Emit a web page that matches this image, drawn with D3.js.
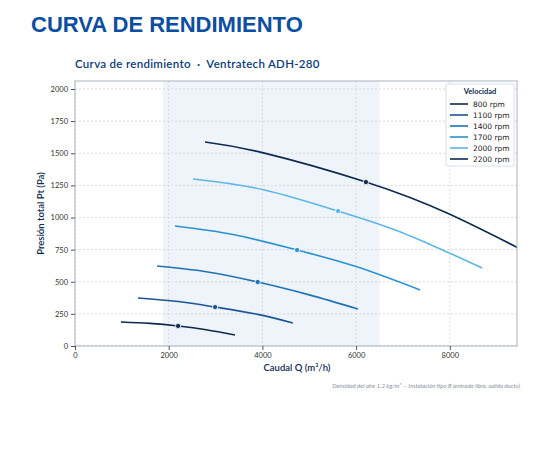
<!DOCTYPE html>
<html><head><meta charset="utf-8">
<script src="https://cdn.jsdelivr.net/npm/d3@7"></script>
<style>body{margin:0;background:#fff;font-family:Lato,"Noto Sans",sans-serif;}</style>
</head><body>
<script>
const rpmLabels = ["800 rpm", "1100 rpm", "1400 rpm", "1700 rpm", "2000 rpm", "2200 rpm"];
const colors = ["#0e2a4e", "#1d5696", "#1f72b8", "#2b92d2", "#5cb6e6", "#0e2a4e"];
const curveQ = [
  [980, 1600, 2200, 2800, 3415],
  [1345, 2200, 2990, 3900, 4650],
  [1750, 2800, 3900, 5000, 6040],
  [2135, 3400, 4740, 6000, 7365],
  [2520, 4000, 5615, 7000, 8690],
  [2775, 4000, 6210, 8000, 9800]
];
const curveP = [
  [187, 176, 156, 127, 86],
  [374, 346, 303, 246, 179],
  [622, 578, 498, 398, 288],
  [934, 866, 747, 618, 436],
  [1300, 1218, 1050, 880, 607],
  [1588, 1505, 1276, 1025, 700]
];
const markerIdx = 2;
const xTicks = [0, 2000, 4000, 6000, 8000];
const yTicks = [0, 250, 500, 750, 1000, 1250, 1500, 1750, 2000];
const band = [1880, 6500];

const W = 540, H = 460;
const m = {l: 75, r: 23, t: 81, b: 114};
const svg = d3.select("body").append("svg").attr("width", W).attr("height", H);

svg.append("text").attr("x", 31).attr("y", 32).text("CURVA DE RENDIMIENTO")
  .attr("fill", "#0b4ea2").attr("font-size", 22).attr("font-weight", 700)
  .attr("font-family", "Liberation Sans, Arial, sans-serif");
svg.append("text").attr("x", 75).attr("y", 68).text("Curva de rendimiento  ·  Ventratech ADH-280")
  .attr("fill", "#0b3c7a").attr("font-size", 11.5).attr("font-weight", 600)
  .attr("letter-spacing", 0.3).attr("xml:space", "preserve").style("white-space", "pre");

const x = d3.scaleLinear().domain([0, 9434]).range([m.l, W - m.r]);
const y = d3.scaleLinear().domain([0, 2000]).range([H - m.b, m.t + 8]);
const pw = W - m.r - m.l;

svg.append("defs").append("clipPath").attr("id", "c").append("rect")
  .attr("x", m.l).attr("y", m.t).attr("width", pw).attr("height", H - m.b - m.t);

svg.append("rect").attr("x", x(band[0])).attr("y", m.t)
  .attr("width", x(band[1]) - x(band[0])).attr("height", H - m.b - m.t).attr("fill", "#eef4fa");

const g = svg.append("g");
g.selectAll(".gx").data(xTicks).join("line").attr("x1", d => x(d)).attr("x2", d => x(d))
  .attr("y1", m.t).attr("y2", H - m.b).attr("stroke", "#d5dbe3").attr("stroke-dasharray", "2,2");
g.selectAll(".gy").data(yTicks).join("line").attr("y1", d => y(d)).attr("y2", d => y(d))
  .attr("x1", m.l).attr("x2", W - m.r).attr("stroke", "#d5dbe3").attr("stroke-dasharray", "2,2");

const line = d3.line().curve(d3.curveNatural).x(d => x(d[0])).y(d => y(d[1]));
const plot = svg.append("g").attr("clip-path", "url(#c)");
curveQ.forEach((qs, i) => {
  const pts = qs.map((q, j) => [q, curveP[i][j]]);
  plot.append("path").attr("d", line(pts)).attr("fill", "none")
    .attr("stroke", colors[i]).attr("stroke-width", 1.6);
  plot.append("circle").attr("cx", x(pts[markerIdx][0])).attr("cy", y(pts[markerIdx][1]))
    .attr("r", 2.6).attr("fill", colors[i]).attr("stroke", "#fff").attr("stroke-width", 0.8);
});

svg.append("rect").attr("x", m.l).attr("y", m.t).attr("width", pw).attr("height", H - m.b - m.t)
  .attr("fill", "none").attr("stroke", "#a9b2c0");

const ax = svg.append("g").attr("transform", `translate(0,${H - m.b})`)
  .call(d3.axisBottom(x).tickValues(xTicks).tickSize(4).tickFormat(d3.format("d")));
const ay = svg.append("g").attr("transform", `translate(${m.l},0)`)
  .call(d3.axisLeft(y).tickValues(yTicks).tickSize(4).tickFormat(d3.format("d")));
[ax, ay].forEach(a => {
  a.select(".domain").remove();
  a.selectAll("text").attr("font-size", 7.5).attr("fill", "#333").attr("font-family", "Lato,sans-serif");
  a.selectAll("line").attr("stroke", "#555");
});

svg.append("text").attr("x", 297).attr("y", 371).attr("text-anchor", "middle")
  .text("Caudal Q (m³/h)").attr("font-size", 9.5).attr("font-weight", 600).attr("fill", "#0e2a4e");
svg.append("text").attr("transform", `translate(44,${(m.t + H - m.b) / 2}) rotate(-90)`)
  .attr("text-anchor", "middle").text("Presión total Pt (Pa)")
  .attr("font-size", 9.5).attr("font-weight", 600).attr("fill", "#0e2a4e");
svg.append("text").attr("x", 520).attr("y", 388).attr("text-anchor", "end")
  .text("Densidad del aire 1.2 kg/m³  ·  Instalación tipo B (entrada libre, salida ducto)")
  .attr("font-size", 6).attr("font-style", "italic").attr("fill", "#8a93a0").style("white-space", "pre");

const lg = svg.append("g").attr("transform", "translate(446,84)");
lg.append("rect").attr("width", 68).attr("height", 82).attr("fill", "#fff")
  .attr("stroke", "#d5e0ec").attr("rx", 1);
lg.append("text").attr("x", 34).attr("y", 10).attr("text-anchor", "middle").text("Velocidad")
  .attr("font-size", 7.5).attr("font-weight", 700).attr("fill", "#0e2a4e");
rpmLabels.forEach((l, i) => {
  const yy = 20 + i * 11;
  lg.append("line").attr("x1", 4).attr("x2", 22).attr("y1", yy).attr("y2", yy)
    .attr("stroke", colors[i]).attr("stroke-width", 1.6);
  lg.append("text").attr("x", 27).attr("y", yy + 3).text(l).attr("font-size", 7.5)
    .attr("fill", "#222").attr("font-family", "DejaVu Sans,sans-serif");
});
</script>
</body></html>
